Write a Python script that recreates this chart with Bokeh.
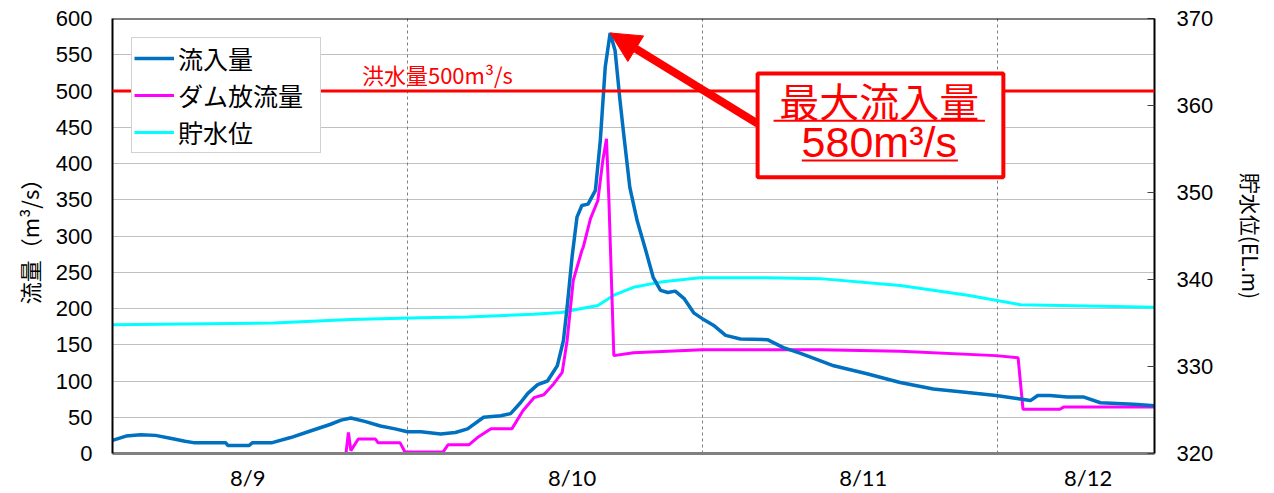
from bokeh.plotting import figure
from bokeh.models import (Range1d, LinearAxis, FixedTicker, SingleIntervalTicker, Span, Label,
                          BoxAnnotation, Arrow, NormalHead, Legend, LegendItem, Grid)
from bokeh.embed import file_html
from bokeh.resources import INLINE

# ---- data (hours from 8/9 00:00) ----
inflow_h = [0, 1.1, 2.3, 3.5, 4.7, 5.9, 6.6, 9.2, 9.4, 11.1, 11.4, 13.0, 14.5, 16.1, 17.7, 18.6,
            19.4, 20.6, 21.8, 23.0, 24.0, 25.1, 26.7, 27.9, 28.9, 30.2, 31.6, 32.4, 33.2, 33.8,
            34.6, 35.4, 36.2, 36.7, 37.0, 37.4, 37.8, 38.2, 38.7, 39.3, 39.7, 40.1, 40.5, 40.9,
            41.3, 41.6, 42.1, 42.7, 43.4, 44.0, 44.6, 45.2, 45.8, 46.5, 47.3, 48.0, 48.9, 49.9,
            51.1, 53.3, 54.6, 56.0, 58.7, 61.4, 64.1, 66.8, 69.6, 71.9, 73.6, 74.7, 75.3, 76.3,
            77.7, 79.0, 80.4, 83.1, 84.8]
inflow_q = [18, 24, 26, 25, 21, 17, 15, 15, 11, 11, 15, 15, 22, 31, 40, 46,
            49, 44, 38, 34, 30, 30, 27, 29, 34, 50, 52, 55, 70, 83,
            95, 100, 121, 156, 202, 271, 326, 342, 344, 363, 432, 533, 580, 556,
            487, 441, 367, 321, 280, 243, 225, 222, 224, 214, 194, 186, 177, 163,
            158, 157, 146, 138, 121, 110, 98, 89, 84, 80, 76, 73, 80, 80,
            78, 78, 70, 68, 66]

release_h = [0, 19.0, 19.2, 19.4, 20.0, 21.4, 21.6, 23.4, 23.8, 26.9, 27.3, 29.0, 29.7, 30.8,
             32.5, 33.4, 34.3, 35.1, 35.9, 36.6, 37.0, 37.5, 38.2, 38.3, 38.9, 39.5, 39.9,
             40.2, 40.4, 40.8, 42.4, 48.0, 57.6, 64.1, 71.9, 73.7, 74.1, 77.1, 77.4, 84.8]
release_q = [0, 0, 29, 4, 20, 20, 15, 15, 2, 2, 12, 12, 22, 34,
             34, 59, 77, 81, 96, 112, 156, 239, 280, 284, 324, 349, 404,
             434, 349, 135, 139, 143, 143, 141, 135, 132, 61, 61, 64, 64]

level_h = [0, 13.1, 19.4, 25.1, 28.9, 34.3, 36.5, 38.3, 39.5, 40.8, 42.4, 44.6, 47.8, 53.3,
           57.6, 64.1, 69.6, 73.9, 84.8]
level_m = [334.8, 335.0, 335.4, 335.6, 335.7, 336.0, 336.2, 336.7, 337.0, 338.2, 339.1, 339.7,
           340.2, 340.2, 340.1, 339.3, 338.2, 337.1, 336.8]

date_labels = ["8/9", "8/10", "8/11", "8/12"]
date_label_pos = [11.0, 37.4, 61.1, 79.4]
day_bounds = [24, 48, 72]
flood_q = 500
peak_q = 580
peak_h = 40.5

RED = "#FF0000"
JP = "Noto Sans CJK JP"

p = figure(width=1274, height=493, x_range=Range1d(0, 84.8), y_range=Range1d(0, 600),
           output_backend="svg", toolbar_location=None,
           min_border_left=112, min_border_right=120, min_border_top=18, min_border_bottom=40)
p.outline_line_color = None
p.background_fill_color = "white"
p.border_fill_color = "white"

# grids
p.xgrid.visible = False
p.ygrid.ticker = SingleIntervalTicker(interval=50, num_minor_ticks=0)
p.ygrid.grid_line_color = "#C0C0C0"
p.ygrid.grid_line_width = 1
p.add_layout(Grid(dimension=0, ticker=FixedTicker(ticks=day_bounds),
                  grid_line_color="#808080", grid_line_dash="3 3", grid_line_width=1))

# left axis
ya = p.yaxis[0]
ya.ticker = SingleIntervalTicker(interval=50, num_minor_ticks=0)
ya.axis_label = "流量（m³/s）"
ya.axis_label_text_font = JP
ya.axis_label_text_font_size = "22px"
ya.axis_label_text_font_style = "normal"
ya.axis_label_text_color = "black"
ya.axis_label_standoff = 8
ya.major_label_text_font = "Liberation Sans"
ya.major_label_text_font_size = "22px"
ya.major_label_text_color = "black"
ya.major_label_standoff = 20
ya.major_tick_out = 0
ya.major_tick_in = 0
ya.minor_tick_line_color = None
ya.axis_line_color = "black"
ya.axis_line_width = 2

# bottom axis
xa = p.xaxis[0]
xa.ticker = FixedTicker(ticks=date_label_pos)
xa.major_label_overrides = {pos: lab for pos, lab in zip(date_label_pos, date_labels)}
xa.major_label_text_font = "Lato"
xa.major_label_text_font_size = "22px"
xa.major_label_text_color = "black"
xa.major_label_standoff = 10
xa.major_tick_out = 0
xa.major_tick_in = 0
xa.minor_tick_line_color = None
xa.axis_line_color = "#808080"
xa.axis_line_width = 3

# right axis
p.extra_y_ranges = {"lv": Range1d(320, 370)}
ra = LinearAxis(y_range_name="lv", ticker=SingleIntervalTicker(interval=10, num_minor_ticks=0),
                axis_label="貯水位(EL.m)")
ra.axis_label_text_font = JP
ra.axis_label_text_font_size = "21px"
ra.axis_label_text_font_style = "normal"
ra.axis_label_text_color = "black"
ra.axis_label_standoff = 20
ra.major_label_text_font = "Liberation Sans"
ra.major_label_text_font_size = "22px"
ra.major_label_text_color = "black"
ra.major_label_standoff = 22
ra.major_tick_out = 0
ra.major_tick_in = 7
ra.major_tick_line_color = "#404040"
ra.minor_tick_line_color = None
ra.axis_line_color = "black"
ra.axis_line_width = 2
p.add_layout(ra, "right")

# top border
p.add_layout(Span(location=600, dimension="width", line_color="black", line_width=2))

# flood line
p.add_layout(Span(location=flood_q, dimension="width", line_color=RED, line_width=3))
p.add_layout(Label(x=20.3, y=flood_q, y_offset=1, text="洪水量500m³/s", text_color=RED,
                   text_font=JP, text_font_size="22px", text_baseline="bottom"))

# series
r_level = p.line(level_h, level_m, y_range_name="lv", line_color="#00FFFF", line_width=3)
r_rel = p.line(release_h, release_q, line_color="#FF00FF", line_width=3)
r_in = p.line(inflow_h, inflow_q, line_color="#0070C0", line_width=3.5)

legend = Legend(items=[LegendItem(label="流入量", renderers=[r_in]),
                       LegendItem(label="ダム放流量", renderers=[r_rel]),
                       LegendItem(label="貯水位", renderers=[r_level])],
                location="top_left", margin=19, padding=2, spacing=1,
                glyph_width=40, glyph_height=30, label_height=30, label_width=140,
                label_standoff=4, label_text_font=JP, label_text_font_size="25px",
                label_text_color="black",
                border_line_color="#A6A6A6", border_line_width=1,
                background_fill_color="white", background_fill_alpha=1)
p.add_layout(legend)

# annotation arrow + box
p.add_layout(Arrow(end=NormalHead(size=30, fill_color=RED, line_color=RED),
                   x_start=52.5, y_start=455, x_end=peak_h, y_end=peak_q,
                   line_color=RED, line_width=8))
p.add_layout(BoxAnnotation(left=52.5, right=72.5, top=524, bottom=381,
                           fill_color="white", fill_alpha=1,
                           line_color=RED, line_alpha=1, line_width=4))
p.add_layout(Label(x=62.4, y=487, text="最大流入量", text_color=RED, text_font=JP,
                   text_font_size="40px", text_align="center", text_baseline="middle"))
p.add_layout(Label(x=62.4, y=430, text="580m³/s", text_color=RED, text_font="Liberation Sans",
                   text_font_size="43px", text_align="center", text_baseline="middle"))
# underlines
p.add_layout(Arrow(end=None, x_start=53.8, y_start=459, x_end=71.0, y_end=459,
                   line_color=RED, line_width=2))
p.add_layout(Arrow(end=None, x_start=56.1, y_start=404, x_end=68.8, y_end=404,
                   line_color=RED, line_width=2))

open("out.html", "w").write(file_html(p, INLINE))
